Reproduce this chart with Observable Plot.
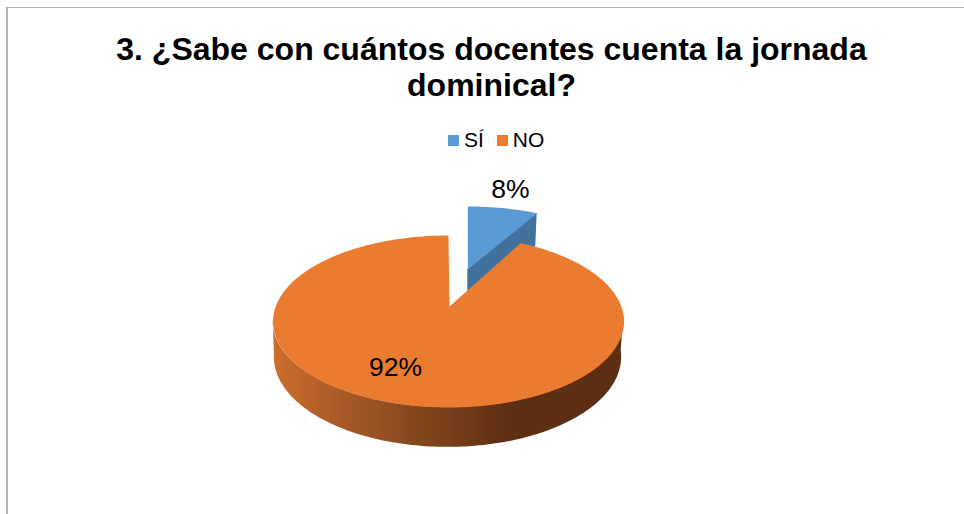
<!DOCTYPE html>
<html lang="es">
<head>
<meta charset="utf-8">
<title>Docentes de la jornada dominical</title>
<script src="https://cdn.jsdelivr.net/npm/d3@7"></script>
<script src="https://cdn.jsdelivr.net/npm/@observablehq/plot@0.6"></script>
<style>
  html, body { margin: 0; background: #fff; overflow: hidden; }
  body { width: 964px; height: 514px; position: relative; font-family: "Liberation Sans", Arial, sans-serif; color: #000; }
  #frame { position: absolute; left: 6px; top: 7px; right: 0; bottom: 0; border-top: 1.5px solid #b3b3b3; border-left: 2px solid #b3b3b3; }
  h1 { position: absolute; left: 0; width: 983px; top: 31px; margin: 0; font-size: 32px; line-height: 36px; font-weight: 700; text-align: center; }
  #legend { position: absolute; left: 448px; top: 128px; display: flex; align-items: center; font-size: 21px; line-height: 24px; }
  #legend i { width: 11px; height: 11px; display: inline-block; margin-right: 5px; }
  #legend span { margin-right: 13px; }
  #chart { position: absolute; left: 0; top: 160px; }
  #chart svg { background: transparent; display: block; }
</style>
</head>
<body>
<div id="frame"></div>
<h1>3. ¿Sabe con cuántos docentes cuenta la jornada<br>dominical?</h1>
<div id="legend"></div>
<div id="chart"></div>
<script>
// Survey answers
const categories = ["SÍ", "NO"];
const percentages = [8, 92];
const topColors = ["#5b9bd5", "#ea7b31"];
const wallColor = "#41719c";
const shadeStops = ["#cb6d2c", "#a25725", "#7e431c", "#5c2e12"];

// Perspective of the tilted disc: k is the foreshortening towards the viewer
const k = 0.1744;
const topDisc = {x: 448, y: 306, rx: 172.8, ry: 83.4, apexX: 449};
const baseDisc = {x: 447.5, y: 341, rx: 171, ry: 87.4};
const explodedDisc = {x: 467.3, y: 269, rx: 166, ry: 74};
const explodedDepth = 33;

const project = (disc, deg, r = 1) => {
  const a = deg * Math.PI / 180;
  const u = r * Math.sin(a), v = -r * Math.cos(a), d = 1 - k * v;
  return {x: disc.x + disc.rx * u / d, y: disc.y + disc.ry * v / d};
};

const arcDegrees = (from, to) => d3.range(from, to, 1).concat(to);
const wedge = (disc, from, to) => {
  const apex = {x: disc.apexX ?? disc.x, y: disc.y};
  return [apex, ...arcDegrees(from, to).map((d) => project(disc, d)), apex];
};

const sweep = percentages.map((p) => p * 3.6);
const siEnd = sweep[0];
const noEnd = siEnd + sweep[1];

// Rim of the large slice: front of the disc between its two silhouette points
const rim = arcDegrees(96, 262).map((d) => {
  const a = project(topDisc, d), b = project(baseDisc, d);
  return {x1: a.x, y1: a.y, x2: b.x, y2: b.y};
});

// Cut face of the pulled-out slice, running from its centre to its right corner
const corner = project(explodedDisc, siEnd);
const cut = [
  {x1: explodedDisc.x, y1: explodedDisc.y, x2: explodedDisc.x, y2: explodedDisc.y + explodedDepth},
  {x1: corner.x, y1: corner.y, x2: corner.x - 1.4, y2: corner.y + explodedDepth}
];

// Value labels sit on each slice's bisector
const labelAt = (disc, deg, r, dx) => { const p = project(disc, deg, r); return {x: p.x + dx, y: p.y}; };
const labels = [
  {...labelAt(explodedDisc, siEnd / 2, 1.38, -3.5), text: percentages[0] + "%"},
  {...labelAt(topDisc, siEnd + sweep[1] / 2, 0.67, -20.5), text: percentages[1] + "%"}
];

// Shading of the rim, defined once and referenced by the area mark
const rimGradient = () => {
  const defs = d3.create("svg:defs");
  const g = defs.append("linearGradient")
    .attr("id", "rim-shade").attr("gradientUnits", "userSpaceOnUse")
    .attr("x1", 275).attr("x2", 510).attr("y1", 0).attr("y2", 0);
  shadeStops.forEach((c, i) => g.append("stop").attr("offset", i / (shadeStops.length - 1)).attr("stop-color", c));
  return defs.node();
};

const chart = Plot.plot({
  width: 964,
  height: 354,
  margin: 0,
  x: {domain: [0, 964], range: [0, 964], axis: null},
  y: {domain: [160, 514], range: [0, 354], axis: null},
  marks: [
    rimGradient,
    Plot.area(cut, {x1: "x1", y1: "y1", x2: "x2", y2: "y2", fill: wallColor}),
    Plot.line(wedge(explodedDisc, 0, siEnd), {x: "x", y: "y", fill: topColors[0], stroke: "none", curve: "linear"}),
    Plot.area(rim, {x1: "x1", y1: "y1", x2: "x2", y2: "y2", fill: "url(#rim-shade)"}),
    Plot.line(wedge(topDisc, siEnd, noEnd), {x: "x", y: "y", fill: topColors[1], stroke: "none", curve: "linear"}),
    Plot.text(labels, {x: "x", y: "y", text: "text", fontSize: 26.5, fill: "#000", fontFamily: "Liberation Sans, Arial, sans-serif"})
  ]
});
document.getElementById("chart").append(chart);

// Legend entries
const legend = d3.select("#legend");
categories.forEach((c, i) => {
  legend.append("i").style("background", topColors[i]);
  legend.append("span").text(c);
});
</script>
</body>
</html>
